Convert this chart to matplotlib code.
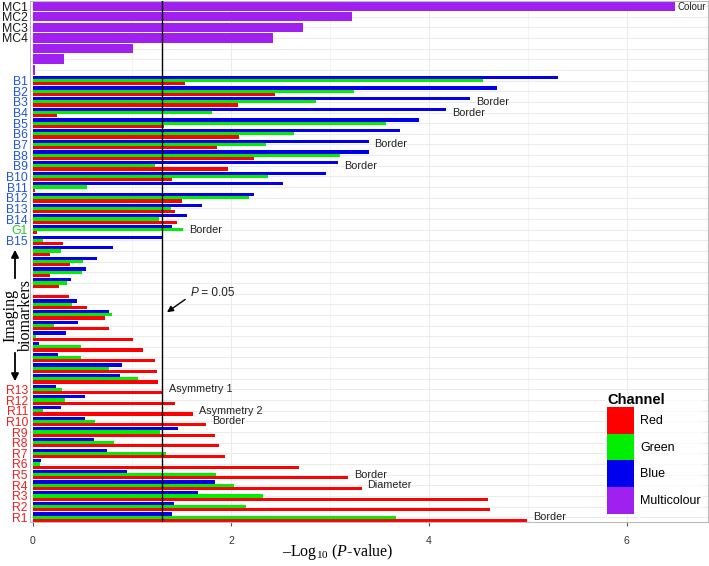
import numpy as np
import matplotlib.pyplot as plt
from matplotlib.patches import Patch

plt.rcParams["font.family"] = ["Liberation Sans", "DejaVu Sans"]
plt.rcParams["mathtext.fontset"] = "custom"
plt.rcParams["mathtext.rm"] = "Liberation Serif"
plt.rcParams["mathtext.it"] = "Liberation Serif:italic"

# --- data: -log10(P) per feature, top row first ---
row_labels = (["MC1", "MC2", "MC3", "MC4", "", "", ""]
              + ["B%d" % i for i in range(1, 15)] + ["G1", "B15"]
              + [""] * 13
              + ["R%d" % i for i in range(13, 0, -1)])

mc_vals = [6.49, 3.22, 2.73, 2.43, 1.01, 0.31, 0.02]

red_vals = [1.54, 2.45, 2.07, 0.24, 1.32, 2.08, 1.86, 2.23, 1.97, 1.40,
            0.02, 1.51, 1.44, 1.46, 0.04, 0.30,
            0.17, 0.37, 0.17, 0.26, 0.36, 0.55, 0.73, 0.77, 1.01, 1.11,
            1.23, 1.25, 1.26,
            1.31, 1.43, 1.62, 1.75, 1.84, 1.88, 1.94, 2.69, 3.18, 3.32,
            4.60, 4.62, 4.99]
green_vals = [4.55, 3.24, 2.86, 1.81, 3.57, 2.64, 2.35, 3.10, 1.23, 2.37,
              0.55, 2.18, 1.39, 1.27, 1.52, 0.10,
              0.28, 0.51, 0.50, 0.34, 0.00, 0.39, 0.80, 0.21, 0.03, 0.49,
              0.49, 0.77, 1.06,
              0.29, 0.32, 0.10, 0.63, 1.28, 0.82, 1.34, 0.07, 1.85, 2.03,
              2.32, 2.15, 3.67]
blue_vals = [5.30, 4.69, 4.42, 4.17, 3.90, 3.71, 3.39, 3.39, 3.08, 2.96,
             2.53, 2.23, 1.71, 1.56, 1.40, 1.31,
             0.81, 0.65, 0.54, 0.38, 0.00, 0.44, 0.77, 0.45, 0.33, 0.06,
             0.25, 0.90, 0.88,
             0.23, 0.53, 0.28, 0.53, 1.47, 0.62, 0.75, 0.08, 0.95, 1.84,
             1.67, 1.42, 1.40]

# annotations: (row label, text)
notes = [("B3", "Border"), ("B4", "Border"), ("B7", "Border"),
         ("B9", "Border"), ("G1", "Border"), ("R13", "Asymmetry 1"),
         ("R11", "Asymmetry 2"), ("R10", "Border"), ("R5", "Border"),
         ("R4", "Diameter"), ("R1", "Border")]

colors = {"Red": "#FF0000", "Green": "#00EE00", "Blue": "#0000EE",
          "Multicolour": "#A020F0"}
p_cut = -np.log10(0.05)

fig = plt.figure(figsize=(7.09, 5.66), dpi=100)
ax = fig.add_axes([30 / 709, 44 / 566, 678 / 709, 521.5 / 566])

n_mc = len(mc_vals)
y_mc = np.arange(n_mc)
y_rgb = np.arange(n_mc, len(row_labels))
bw = 0.3

ax.barh(y_mc, mc_vals, height=0.9, color=colors["Multicolour"], zorder=2)
ax.barh(y_rgb - bw, blue_vals, height=bw, color=colors["Blue"], zorder=2)
ax.barh(y_rgb, green_vals, height=bw, color=colors["Green"], zorder=2)
ax.barh(y_rgb + bw, red_vals, height=bw, color=colors["Red"], zorder=2)

ax.axvline(p_cut, color="black", lw=1.0, zorder=4)

# text notes next to the longest bar in the row
all_max = list(mc_vals) + [max(r, g, b) for r, g, b in zip(red_vals, green_vals, blue_vals)]
for lab, txt in notes:
    i = row_labels.index(lab)
    ax.text(all_max[i] + 0.06, i, txt, fontsize=7.8, va="center", ha="left",
            color="#222222", zorder=5)
ax.text(6.80, 0.1, "Colour", fontsize=7, va="center", ha="right",
        color="#222222", zorder=5)

# P = 0.05 pointer
ax.annotate("", xy=(p_cut + 0.03, 28.9), xytext=(p_cut + 0.26, 27.4),
            arrowprops=dict(arrowstyle="-|>", color="black", lw=1.0,
                            mutation_scale=9), zorder=5)
ptxt = ax.text(p_cut + 0.29, 26.95, "P", style="italic", fontsize=8.5,
               va="center", ha="left", color="#222222")
ax.annotate(" = 0.05", xy=(1, 0.5), xycoords=ptxt, va="center", ha="left",
            fontsize=8.5, color="#222222")

# axes styling
ax.set_xlim(-0.03, 6.82)
ax.set_ylim(48.45, -0.52)
ax.set_xticks([0, 2, 4, 6])
ax.set_xticks([1, 3, 5], minor=True)
ax.set_yticks(np.arange(len(row_labels)))
ax.set_yticklabels(row_labels, fontsize=8.8)
for t, lab in zip(ax.get_yticklabels(), row_labels):
    if lab.startswith("B"):
        t.set_color("#2255DD")
    elif lab.startswith("G"):
        t.set_color("#22CC22")
    elif lab.startswith("R"):
        t.set_color("#EE2222")
    else:
        t.set_color("#1A1A1A")
ax.tick_params(axis="y", length=0, pad=1.5)
ax.tick_params(axis="x", which="major", length=3, color="#555555",
               labelsize=7.5, labelcolor="#333333", pad=7)
ax.tick_params(axis="x", which="minor", length=0)
for t in ax.get_xticklabels():
    t.set_fontfamily(["Liberation Sans Narrow", "Liberation Sans"])

ax.set_axisbelow(True)
ax.grid(True, which="major", axis="both", color="#EBEBEB", lw=0.7)
ax.grid(True, which="minor", axis="x", color="#F2F2F2", lw=0.6)
for s in ax.spines.values():
    s.set_color("#BBBBBB")
    s.set_linewidth(0.8)

ax.set_xlabel(r"–Log$_\mathrm{10}$ ($P$-value)", family="Liberation Serif",
              fontsize=11.5)
ax.xaxis.label.set_va("center")
ax.xaxis.set_label_coords((338 - 30) / 678, -0.058)

# left side note
fig.text(18 / 709, 1 - 315 / 566, "Imaging\nbiomarkers", rotation=90,
         ha="center", va="center", family="Liberation Serif", fontsize=11.5,
         linespacing=1.0)
ax.annotate("", xy=(15, 566 - 247), xytext=(15, 566 - 281),
            xycoords="figure pixels", textcoords="figure pixels",
            arrowprops=dict(arrowstyle="-|>", color="black", lw=1.3,
                            mutation_scale=11))
ax.annotate("", xy=(15, 566 - 384), xytext=(15, 566 - 350),
            xycoords="figure pixels", textcoords="figure pixels",
            arrowprops=dict(arrowstyle="-|>", color="black", lw=1.3,
                            mutation_scale=11))

# legend
handles = [Patch(facecolor=colors[k], edgecolor="none") for k in colors]
leg = ax.legend(handles, list(colors), title="Channel", loc="upper left",
                bbox_to_anchor=(0.848, 0.252), frameon=True, fontsize=9,
                title_fontproperties={"weight": "bold", "size": 10.5},
                handlelength=2.15, handleheight=2.9, labelspacing=0.0,
                handletextpad=0.45, borderpad=0.2, borderaxespad=0,
                alignment="left")
leg.get_frame().set_facecolor("white")
leg.get_frame().set_edgecolor("none")

fig.savefig("out.png", dpi=100)
